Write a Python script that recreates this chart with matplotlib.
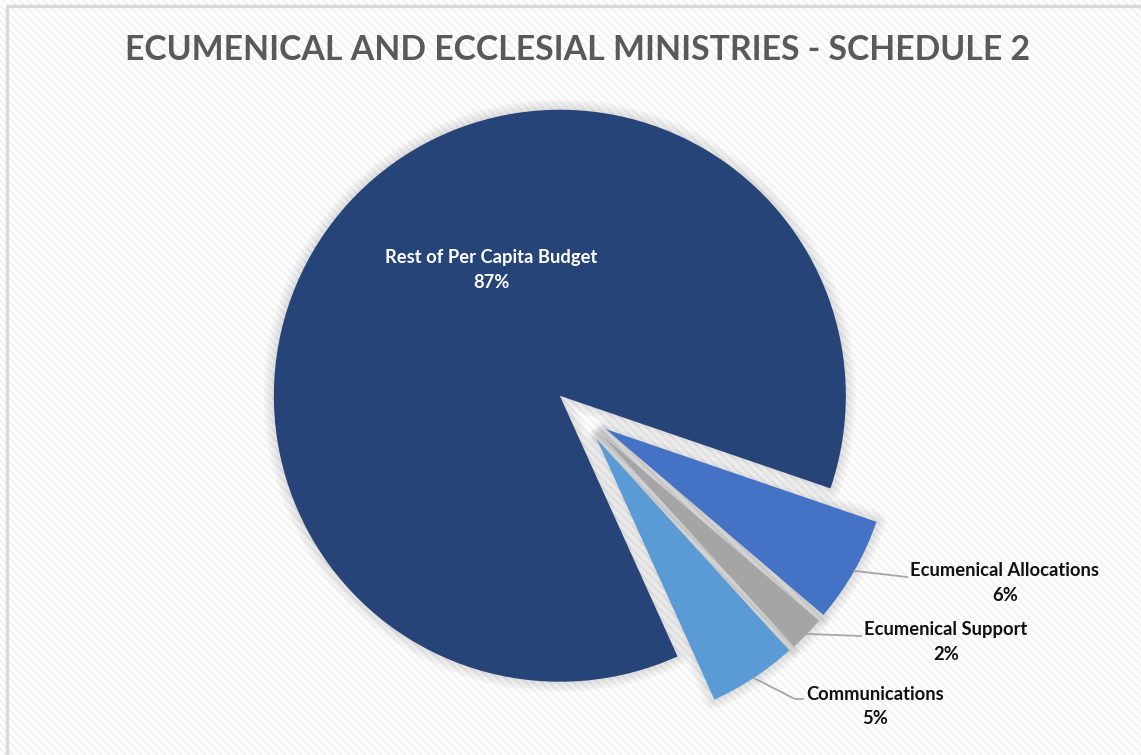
import numpy as np
import matplotlib
matplotlib.use("Agg")
import matplotlib.pyplot as plt
from matplotlib.patches import Wedge
from matplotlib.collections import LineCollection

# ---- data -------------------------------------------------------------
categories = ["Rest of Per Capita Budget", "Ecumenical Allocations",
              "Ecumenical Support", "Communications"]
shares = [87, 6, 2, 5]
colors = ["#264478", "#4472C4", "#A5A5A5", "#5B9BD5"]
title = "ECUMENICAL AND ECCLESIAL MINISTRIES - SCHEDULE 2"

# ---- layout (canvas pixels, y measured from the top) -------------------
W, H = 1141, 755
center_px = (581, 415)
radius = 286
explode_frac = 0.10
start_angle = 294.3

# label block centres (x, y of the name line)
label_pos = [(491, 258), (1005, 571), (946, 630), (875, 694)]
# leader-line end points (None = no leader); may contain an elbow point
leader_pts = [None, [(907, 577)], [(861, 636)], [(795, 699), (803, 699)]]

plt.rcParams["font.family"] = ["Lato", "DejaVu Sans"]

fig = plt.figure(figsize=(W / 100, H / 100), dpi=100)
fig.patch.set_facecolor("white")
ax = fig.add_axes([0, 0, 1, 1])
ax.set_xlim(0, W)
ax.set_ylim(0, H)
ax.set_axis_off()


def Y(y):
    return H - y


# background: faint diagonal stripes running top-left to bottom-right
step = 8.0
offsets = np.arange(-H - 20, W + 20, step)
stripes = [[(x0, H + 10), (x0 + H + 20, -10)] for x0 in offsets]
ax.add_collection(LineCollection(stripes, colors="#f2f2f2", linewidths=1.7,
                                 zorder=0))
ax.plot([6.5, 6.5], [Y(5), -5], color="#d9d9d9", lw=2.4, zorder=1,
        solid_capstyle="butt")
ax.plot([6.5, W + 5], [Y(5.5), Y(5.5)], color="#d9d9d9", lw=2.4, zorder=1,
        solid_capstyle="butt")

# title
ax.text(W / 2 + 7, Y(50), title, ha="center", va="center", fontsize=24.3,
        fontweight="bold", color="#595959", zorder=5)

# ---- pie geometry --------------------------------------------------------
cx, cy = center_px[0], Y(center_px[1])
total = float(sum(shares))
theta1 = start_angle
wedges = []
for val, col in zip(shares, colors):
    span = 360.0 * val / total
    theta2 = theta1 - span
    mid = np.deg2rad((theta1 + theta2) / 2)
    ox = cx + explode_frac * radius * np.cos(mid)
    oy = cy + explode_frac * radius * np.sin(mid)
    wedges.append((ox, oy, theta2, theta1, mid, col))
    theta1 = theta2

# soft outer shadow behind every slice
for ox, oy, t_a, t_b, mid, col in wedges:
    for lw in np.linspace(16, 1.5, 10):
        ax.add_patch(Wedge((ox, oy), radius, t_a, t_b, facecolor="none",
                           edgecolor="black", alpha=0.013, linewidth=lw,
                           joinstyle="round", zorder=2))

for ox, oy, t_a, t_b, mid, col in wedges:
    ax.add_patch(Wedge((ox, oy), radius, t_a, t_b, facecolor=col,
                       edgecolor="none", zorder=3))

# ---- labels and leader lines --------------------------------------------
fs = 13.2
for i, (name, val) in enumerate(zip(categories, shares)):
    lx, ly = label_pos[i]
    tcol = "white" if i == 0 else "#111111"
    ax.text(lx, Y(ly), name, ha="center", va="center", fontsize=fs,
            fontweight="bold", color=tcol, zorder=6)
    ax.text(lx, Y(ly + 24.5), f"{val}%", ha="center", va="center",
            fontsize=fs, fontweight="bold", color=tcol, zorder=6)
    if leader_pts[i] is not None:
        ox, oy, t_a, t_b, mid, col = wedges[i]
        xs = [ox + radius * np.cos(mid)] + [p[0] for p in leader_pts[i]]
        ys = [oy + radius * np.sin(mid)] + [Y(p[1]) for p in leader_pts[i]]
        ax.plot(xs, ys, color="#a6a6a6", lw=1.3, zorder=4)

fig.savefig("out.png", dpi=100)
